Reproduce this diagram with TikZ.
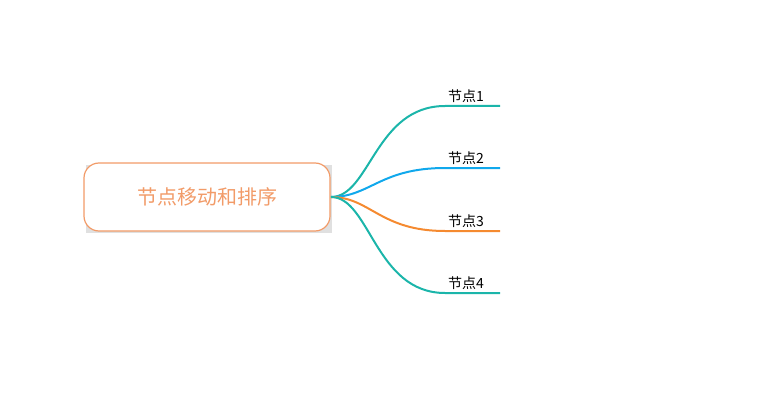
\documentclass[tikz,border=0pt]{standalone}
\usepackage{fontspec}
\setmainfont{Noto Sans CJK SC}
\definecolor{rootc}{HTML}{F29B68}
\definecolor{tealc}{HTML}{1BB5AA}
\definecolor{bluec}{HTML}{10A8EC}
\definecolor{orangec}{HTML}{F58A30}
\begin{document}
\begin{tikzpicture}[x=1pt,y=-1pt]
\tikzset{rootbox/.style={draw=rootc,line width=1.2pt,rounded corners=15pt,fill=white,
  minimum width=246pt,minimum height=68pt,text=rootc,font=\fontsize{20}{24}\selectfont},
  leaf/.style={font=\fontsize{14}{16}\selectfont,anchor=south,inner sep=1pt},
  branch/.style={line width=2pt}}
\useasboundingbox (0,0) rectangle (770,401);
\fill[black!12] (209,199) ++(-123,-34) rectangle ++(246,68);
\node[rootbox] (root) at (207,197) {节点移动和排序};
\coordinate (hub) at (331,197);
% leaves
\coordinate (a1) at (445,106); \coordinate (b1) at (500,106);
\coordinate (a2) at (445,168); \coordinate (b2) at (500,168);
\coordinate (a3) at (445,231); \coordinate (b3) at (500,231);
\coordinate (a4) at (445,293); \coordinate (b4) at (500,293);
\node[leaf] (n1) at (466,104) {节点1};
\node[leaf] (n2) at (466,166) {节点2};
\node[leaf] (n3) at (466,229) {节点3};
\node[leaf] (n4) at (466,291) {节点4};
\draw[branch,tealc] (hub) .. controls (370,197) and (375,106) .. (a1) -- (b1);
\draw[branch,bluec] (hub) .. controls (370,197) and (380,168) .. (a2) -- (b2);
\draw[branch,orangec] (hub) .. controls (370,197) and (380,231) .. (a3) -- (b3);
\draw[branch,tealc] (hub) .. controls (370,197) and (375,293) .. (a4) -- (b4);
\end{tikzpicture}
\end{document}
